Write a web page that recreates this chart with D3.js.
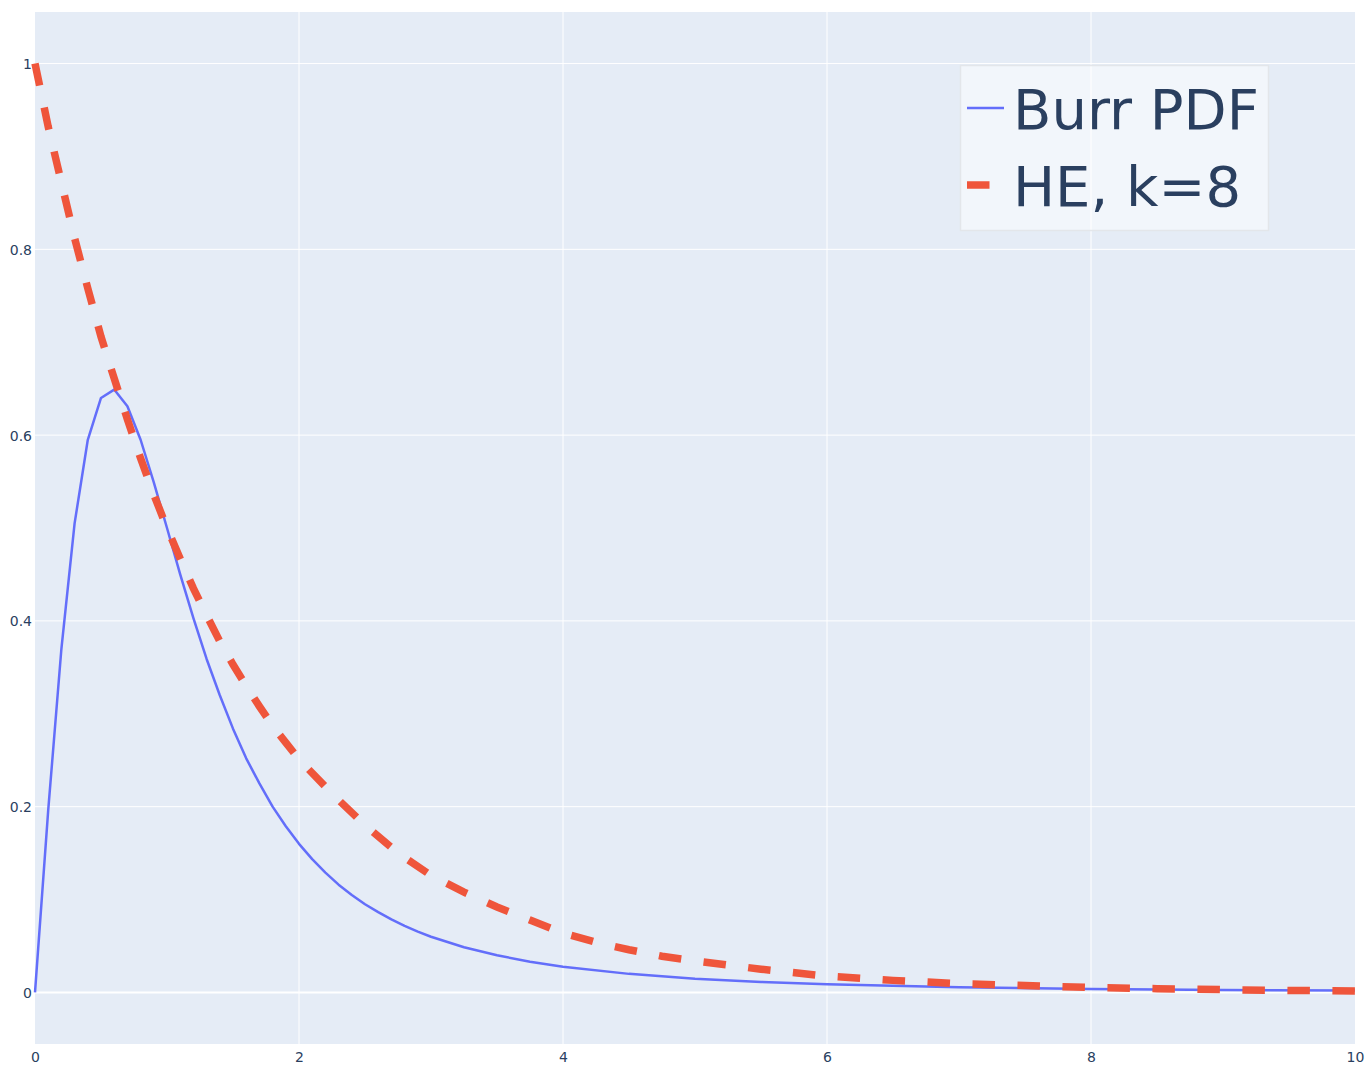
<!DOCTYPE html>
<html>
<head>
<meta charset="utf-8">
<script src="https://cdn.jsdelivr.net/npm/d3@7"></script>
<style>
  html, body { margin: 0; padding: 0; background: #fff; }
  svg { display: block; }
  text { font-family: "DejaVu Sans", "Open Sans", verdana, arial, sans-serif; }
</style>
</head>
<body>
<svg id="chart" width="1370" height="1069"></svg>
<script>
// ---- Data ----
const burrX = [0, 0.1, 0.2, 0.3, 0.4, 0.5, 0.6, 0.7, 0.8, 0.9, 1.0, 1.1, 1.2, 1.3, 1.4, 1.5, 1.6, 1.7, 1.8, 1.9, 2.0,
               2.1, 2.2, 2.3, 2.4, 2.5, 2.6, 2.7, 2.8, 2.9, 3.0, 3.25, 3.5, 3.75, 4.0, 4.5, 5.0, 5.5, 6.0, 7.0, 8.0, 9.0, 10.0];
const burrY = [0, 0.196, 0.370, 0.505, 0.595, 0.640, 0.649, 0.631, 0.595, 0.549, 0.500, 0.450, 0.403, 0.359, 0.320, 0.284, 0.252, 0.225, 0.200, 0.179, 0.160,
               0.1435, 0.129, 0.116, 0.105, 0.095, 0.0864, 0.0786, 0.0717, 0.0655, 0.060, 0.0486, 0.040, 0.0331, 0.0277, 0.020, 0.0148, 0.0113, 0.0088, 0.0056, 0.0038, 0.0027, 0.0020];

const heX = [0, 0.1, 0.2, 0.3, 0.4, 0.5, 0.6, 0.7, 0.8, 0.9, 1.0, 1.1, 1.2, 1.3, 1.4, 1.5, 1.6, 1.7, 1.8, 1.9, 2.0,
             2.25, 2.5, 2.75, 3.0, 3.25, 3.5, 3.75, 4.0, 4.25, 4.5, 4.75, 5.0, 5.5, 6.0, 6.5, 7.0, 7.5, 8.0, 8.5, 9.0, 9.5, 10.0];
const heY = [1.0, 0.932, 0.872, 0.812, 0.758, 0.706, 0.661, 0.617, 0.575, 0.536, 0.500, 0.467, 0.435, 0.406, 0.378, 0.353, 0.330, 0.308, 0.287, 0.269, 0.251,
             0.214, 0.180, 0.150, 0.126, 0.108, 0.092, 0.078, 0.064, 0.054, 0.046, 0.039, 0.034, 0.025, 0.0175, 0.013, 0.0095, 0.0075, 0.0053, 0.0041, 0.0030, 0.0022, 0.0015];

const xTicks = [0, 2, 4, 6, 8, 10];
const yTicks = [0, 0.2, 0.4, 0.6, 0.8, 1];
const seriesNames = ["Burr PDF", "HE, k=8"];
const seriesColors = ["#636efa", "#EF553B"];

// ---- Layout ----
const plot = { left: 35, right: 1355, top: 12, bottom: 1044 };
const svg = d3.select("#chart");

const x = d3.scaleLinear().domain([0, 10]).range([plot.left, plot.right]);
const y = d3.scaleLinear().domain([-0.0555, 1.0555]).range([plot.bottom, plot.top]);

// background
svg.append("rect").attr("x", plot.left).attr("y", plot.top)
  .attr("width", plot.right - plot.left).attr("height", plot.bottom - plot.top)
  .attr("fill", "#E5ECF6");

// gridlines
const grid = svg.append("g");
grid.selectAll("line.gx").data(xTicks.filter(d => d !== 0 && d !== 10)).enter().append("line")
  .attr("x1", d => x(d)).attr("x2", d => x(d))
  .attr("y1", plot.top).attr("y2", plot.bottom)
  .attr("stroke", "#fff").attr("stroke-width", 1);
grid.selectAll("line.gy").data(yTicks.filter(d => d !== 0)).enter().append("line")
  .attr("x1", plot.left).attr("x2", plot.right)
  .attr("y1", d => y(d)).attr("y2", d => y(d))
  .attr("stroke", "#fff").attr("stroke-width", 1);
// zero line
grid.append("line").attr("x1", plot.left).attr("x2", plot.right)
  .attr("y1", y(0)).attr("y2", y(0)).attr("stroke", "#fff").attr("stroke-width", 2);

// axes (labels only)
const xAxis = d3.axisBottom(x).tickValues(xTicks).tickSize(0).tickPadding(0).tickFormat(d3.format("d"));
const gx = svg.append("g").attr("transform", `translate(0, ${plot.bottom})`).call(xAxis);
gx.select(".domain").remove();
gx.selectAll("text").attr("y", 8).attr("dy", "0.71em")
  .style("font-size", "14px").attr("fill", "#2a3f5f");

const yAxis = d3.axisLeft(y).tickValues(yTicks).tickSize(0).tickPadding(0).tickFormat(d => d === 0 ? "0" : (d === 1 ? "1" : d3.format(".1f")(d)));
const gy = svg.append("g").attr("transform", `translate(${plot.left - 3}, 0)`).call(yAxis);
gy.select(".domain").remove();
gy.selectAll("text").attr("x", 0).attr("dy", "0.35em")
  .style("font-size", "14px").attr("fill", "#2a3f5f");

// lines
const line = d3.line().x(d => x(d[0])).y(d => y(d[1]));
const burrData = burrX.map((v, i) => [v, burrY[i]]);
const heData = heX.map((v, i) => [v, heY[i]]);

svg.append("path").datum(burrData).attr("d", line)
  .attr("fill", "none").attr("stroke", seriesColors[0]).attr("stroke-width", 2.5)
  .attr("stroke-linejoin", "round");
svg.append("path").datum(heData).attr("d", line)
  .attr("fill", "none").attr("stroke", seriesColors[1]).attr("stroke-width", 7.5)
  .attr("stroke-dasharray", "22.5,22.5");

// legend
const lg = svg.append("g");
lg.append("rect").attr("x", 960.5).attr("y", 65.5).attr("width", 308).attr("height", 165)
  .attr("fill", "rgba(255,255,255,0.5)").attr("stroke", "#e3e6ea").attr("stroke-width", 1.5);
const rowsY = [108, 185];
lg.append("line").attr("x1", 967).attr("x2", 1004).attr("y1", rowsY[0]).attr("y2", rowsY[0])
  .attr("stroke", seriesColors[0]).attr("stroke-width", 2.5);
lg.append("line").attr("x1", 967).attr("x2", 1004).attr("y1", rowsY[1]).attr("y2", rowsY[1])
  .attr("stroke", seriesColors[1]).attr("stroke-width", 7.5).attr("stroke-dasharray", "22.5,22.5");
seriesNames.forEach((n, i) => {
  lg.append("text").attr("x", 1013).attr("y", rowsY[i]).attr("dy", "0.37em")
    .style("font-size", "56px").attr("fill", "#2a3f5f").text(n);
});
</script>
</body>
</html>
